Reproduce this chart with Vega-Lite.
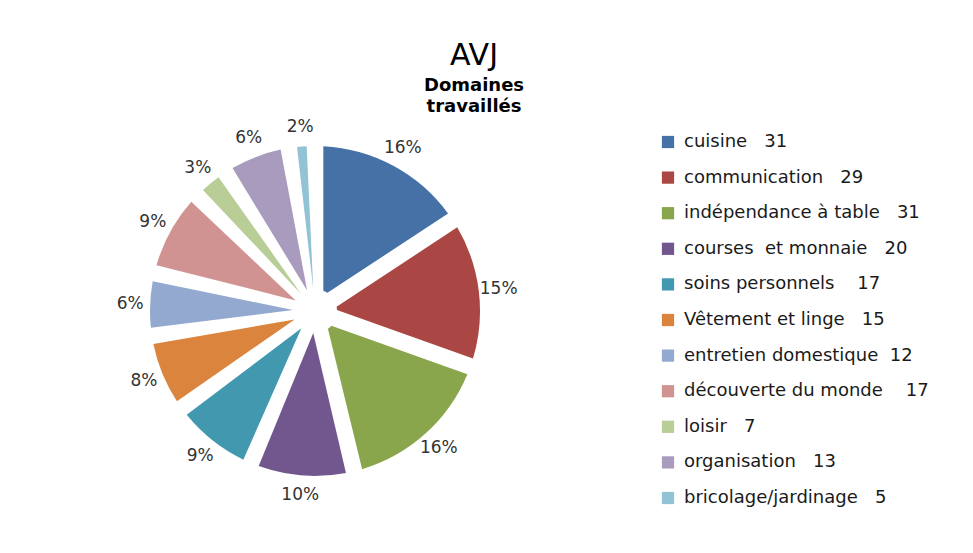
{
  "$schema": "https://vega.github.io/schema/vega-lite/v6.json",
  "width": 973,
  "height": 553,
  "autosize": {"type": "fit", "contains": "padding"},
  "padding": {"left": 5, "top": 42, "right": 30, "bottom": 50},
  "background": "white",
  "title": {
    "text": "AVJ",
    "subtitle": ["Domaines", "travaillés"],
    "anchor": "middle",
    "frame": "bounds",
    "font": "DejaVu Sans",
    "fontSize": 30,
    "fontWeight": "normal",
    "color": "#000000",
    "subtitleFont": "DejaVu Sans",
    "subtitleFontSize": 18,
    "subtitleFontWeight": "bold",
    "subtitleColor": "#000000",
    "subtitleLineHeight": 21,
    "subtitlePadding": 6,
    "offset": 2
  },
  "data": {
    "values": [
      {"order": 1, "label": "cuisine\u00a0\u00a0 31", "value": 31, "pct": "16%"},
      {"order": 2, "label": "communication\u00a0\u00a0 29", "value": 29, "pct": "15%"},
      {"order": 3, "label": "indépendance à table\u00a0\u00a0 31", "value": 31, "pct": "16%"},
      {"order": 4, "label": "courses\u00a0 et monnaie\u00a0\u00a0 20", "value": 20, "pct": "10%"},
      {"order": 5, "label": "soins personnels\u00a0\u00a0\u00a0 17", "value": 17, "pct": "9%"},
      {"order": 6, "label": "Vêtement et linge\u00a0\u00a0 15", "value": 15, "pct": "8%"},
      {"order": 7, "label": "entretien domestique\u00a0 12", "value": 12, "pct": "6%"},
      {"order": 8, "label": "découverte du monde\u00a0\u00a0\u00a0 17", "value": 17, "pct": "9%"},
      {"order": 9, "label": "loisir\u00a0\u00a0 7", "value": 7, "pct": "3%"},
      {"order": 10, "label": "organisation\u00a0\u00a0 13", "value": 13, "pct": "6%"},
      {"order": 11, "label": "bricolage/jardinage\u00a0\u00a0 5", "value": 5, "pct": "2%"}
    ]
  },
  "encoding": {
    "theta": {"field": "value", "type": "quantitative", "stack": true},
    "order": {"field": "order", "type": "quantitative"}
  },
  "layer": [
    {
      "mark": {"type": "arc", "outerRadius": 165, "innerRadius": 22, "padAngle": 0.1},
      "encoding": {
        "color": {
          "field": "label",
          "type": "nominal",
          "sort": null,
          "scale": {
            "domain": [
              "cuisine\u00a0\u00a0 31",
              "communication\u00a0\u00a0 29",
              "indépendance à table\u00a0\u00a0 31",
              "courses\u00a0 et monnaie\u00a0\u00a0 20",
              "soins personnels\u00a0\u00a0\u00a0 17",
              "Vêtement et linge\u00a0\u00a0 15",
              "entretien domestique\u00a0 12",
              "découverte du monde\u00a0\u00a0\u00a0 17",
              "loisir\u00a0\u00a0 7",
              "organisation\u00a0\u00a0 13",
              "bricolage/jardinage\u00a0\u00a0 5"
            ],
            "range": ["#4571A7", "#AA4643", "#8AA64D", "#72578F", "#4198AF", "#DB843D", "#93A9CF", "#D19392", "#B9CD96", "#A99BBD", "#92C3D5"]
          },
          "legend": {
            "title": null,
            "orient": "right",
            "offset": 20,
            "padding": 14,
            "labelFont": "DejaVu Sans",
            "labelFontSize": 18,
            "labelColor": "#1a1a1a",
            "labelLimit": 400,
            "labelOffset": 7,
            "symbolType": "square",
            "symbolSize": 150,
            "symbolStrokeWidth": 0,
            "rowPadding": 17.6
          }
        }
      }
    },
    {
      "mark": {"type": "text", "radius": 185, "font": "DejaVu Sans", "fontSize": 17, "color": "#333333"},
      "encoding": {
        "detail": {"field": "label", "type": "nominal"},
        "text": {"field": "pct", "type": "nominal"}
      }
    }
  ]
}
